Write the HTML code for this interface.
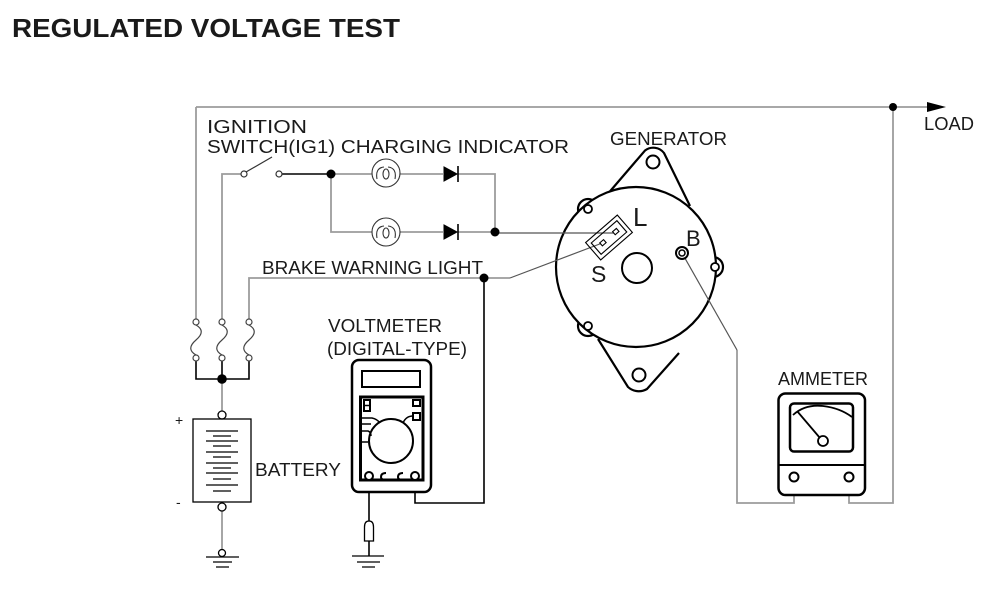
<!DOCTYPE html>
<html><head><meta charset="utf-8"><style>
html,body{margin:0;padding:0;background:#fff;}
svg{display:block;}
text{font-family:"Liberation Sans",Arial,sans-serif;fill:#1a1a1a;}
</style></head><body>
<svg width="988" height="594" viewBox="0 0 988 594" xmlns="http://www.w3.org/2000/svg">
<rect width="988" height="594" fill="#fff"/>
<!-- Title -->
<text x="12" y="37" font-size="26" font-weight="bold" textLength="388" lengthAdjust="spacingAndGlyphs" fill="#000">REGULATED VOLTAGE TEST</text>

<!-- generator (drawn first so wires sit on top) -->
<g stroke="#000" stroke-width="2.2" fill="#fff">
  <path d="M606,196 L645,150.5 A13.5,13.5 0 0 1 664,153 L690,206"/>
  <path d="M598,339 L628,387 A16,16 0 0 0 647,389 L679,353"/>
  <circle cx="588" cy="209" r="10"/>
  <circle cx="713" cy="267" r="10"/>
  <circle cx="588" cy="326" r="10"/>
  <circle cx="636" cy="267" r="80"/>
  <circle cx="653" cy="162" r="6.5" stroke-width="2"/>
  <circle cx="639" cy="375" r="6.5" stroke-width="2"/>
  <circle cx="588" cy="209" r="4" stroke-width="1.8"/>
  <circle cx="715" cy="267" r="4" stroke-width="1.8"/>
  <circle cx="588" cy="326" r="4" stroke-width="1.8"/>
  <circle cx="637" cy="268" r="15" stroke-width="2"/>
</g>

<!-- Labels -->
<text x="207" y="133" font-size="18" textLength="100" lengthAdjust="spacingAndGlyphs">IGNITION</text>
<text x="207" y="153" font-size="18" textLength="362" lengthAdjust="spacingAndGlyphs">SWITCH(IG1) CHARGING INDICATOR</text>
<text x="610" y="145" font-size="18" textLength="117" lengthAdjust="spacingAndGlyphs">GENERATOR</text>
<text x="924" y="130" font-size="18" textLength="50" lengthAdjust="spacingAndGlyphs">LOAD</text>
<text x="262" y="274" font-size="18" textLength="221" lengthAdjust="spacingAndGlyphs">BRAKE WARNING LIGHT</text>
<text x="328" y="332" font-size="18" textLength="114" lengthAdjust="spacingAndGlyphs">VOLTMETER</text>
<text x="327" y="355" font-size="18" textLength="140" lengthAdjust="spacingAndGlyphs">(DIGITAL-TYPE)</text>
<text x="255" y="476" font-size="18" textLength="86" lengthAdjust="spacingAndGlyphs">BATTERY</text>
<text x="778" y="385" font-size="18" textLength="90" lengthAdjust="spacingAndGlyphs">AMMETER</text>
<text x="175" y="425" font-size="14">+</text>
<text x="176" y="507" font-size="14">-</text>
<text x="633" y="226" font-size="26">L</text>
<text x="686" y="246" font-size="22">B</text>
<text x="591" y="282" font-size="23">S</text>

<!-- Gray wires -->
<g fill="none" stroke="#9c9c9c" stroke-width="1.8">
  <path d="M196,107 H928"/>
  <path d="M196,107 V319"/>
  <path d="M222,319 V174 H241"/>
  <path d="M249,319 V278 H510"/>
  <path d="M331,174 H372 M400,174 H443 M458,174 H495 V232"/>
  <path d="M331,174 V232 H372 M400,232 H443 M458,232 H495"/>
  <path d="M222,379 V411"/>
  <path d="M222,511 V549"/>
  <path d="M893,107 V503 H849 V481"/>
  <path d="M794,481 V503 H737 V350"/>
</g>
<g fill="none" stroke="#555" stroke-width="1.2">
  <path d="M495,233 H614"/>
  <path d="M510,278 L601,243.5"/>
  <path d="M682,253 L737,350"/>
</g>

<!-- B terminal -->
<g stroke="#000" fill="#fff">
  <circle cx="682" cy="253" r="6" stroke-width="2"/>
  <circle cx="682" cy="253" r="3" stroke-width="1.5"/>
</g>

<!-- L/S connector -->
<g transform="translate(609,237.5) rotate(-41)" fill="none" stroke="#000" stroke-width="1.1">
  <rect x="-21" y="-11.5" width="42" height="23"/>
  <rect x="-17" y="-7.5" width="34" height="15"/>
  <rect x="6.5" y="-2" width="5" height="4" fill="#fff"/>
  <rect x="-10.5" y="-2" width="5" height="4" fill="#fff"/>
</g>

<!-- Black wires -->
<g fill="none" stroke="#000" stroke-width="1.6">
  <path d="M282,174 H331"/>
  <path d="M196,361 V379 H249 V361 M222,361 V379"/>
  <path d="M484,278 V503 H415 V480"/>
  <path d="M369,480 V521"/>
  <path d="M369,541 V556"/>
</g>

<!-- dots -->
<g fill="#000">
  <circle cx="331" cy="174" r="4.5"/>
  <circle cx="495" cy="232" r="4.5"/>
  <circle cx="484" cy="278" r="4.5"/>
  <circle cx="222" cy="379" r="4.8"/>
  <circle cx="893" cy="107" r="4"/>
  <path d="M927,102 L946,107 L927,112 Z"/>
</g>

<!-- ignition switch -->
<g fill="#fff" stroke="#333" stroke-width="1.2">
  <circle cx="244" cy="174" r="3"/>
  <circle cx="279" cy="174" r="3"/>
  <path d="M246,172 L272,157" fill="none"/>
</g>

<!-- lamps -->
<g fill="none" stroke="#333" stroke-width="1.1">
  <circle cx="386" cy="173" r="14" fill="#fff"/>
  <path d="M377,179 Q375,168 384,167 M388,167 Q397,168 395,179"/>
  <ellipse cx="386" cy="174" rx="3" ry="5"/>
  <circle cx="386" cy="232" r="14" fill="#fff"/>
  <path d="M377,238 Q375,227 384,226 M388,226 Q397,227 395,238"/>
  <ellipse cx="386" cy="233" rx="3" ry="5"/>
</g>
<!-- diodes -->
<g fill="#000" stroke="#000">
  <path d="M444,167 L457,174 L444,181 Z" stroke-width="1"/>
  <path d="M458,166 V182" stroke-width="1.6"/>
  <path d="M444,225 L457,232 L444,239 Z" stroke-width="1"/>
  <path d="M458,224 V240" stroke-width="1.6"/>
</g>

<!-- fuses -->
<g fill="none" stroke="#444" stroke-width="1.2">
  <circle cx="196" cy="322" r="3" fill="#fff"/>
  <circle cx="196" cy="358" r="3" fill="#fff"/>
  <path d="M196,325 C203,329 203,334 196,340 C189,346 189,351 196,355"/>
  <circle cx="222" cy="322" r="3" fill="#fff"/>
  <circle cx="222" cy="358" r="3" fill="#fff"/>
  <path d="M222,325 C229,329 229,334 222,340 C215,346 215,351 222,355"/>
  <circle cx="249" cy="322" r="3" fill="#fff"/>
  <circle cx="249" cy="358" r="3" fill="#fff"/>
  <path d="M249,325 C256,329 256,334 249,340 C242,346 242,351 249,355"/>
</g>

<!-- battery -->
<g fill="none" stroke="#000" stroke-width="1.3">
  <circle cx="222" cy="415" r="4" fill="#fff"/>
  <rect x="193" y="419" width="58" height="83"/>
  <circle cx="222" cy="507" r="4" fill="#fff"/>
  <path d="M206,431 H238 M213,436 H231 M206,441 H238 M213,446 H231 M206,452 H238 M213,457 H231 M206,463 H238 M213,468 H231 M206,473 H238 M213,479 H231 M206,485 H238 M213,491 H231"/>
  <circle cx="222" cy="553" r="3.5" fill="#fff"/>
  <path d="M206,557 H239 M213,562 H232 M216,567 H229"/>
</g>

<!-- voltmeter -->
<g fill="none" stroke="#000">
  <rect x="352" y="360" width="79" height="132" rx="7" stroke-width="2.5" fill="#fff"/>
  <rect x="362" y="371" width="58" height="16" stroke-width="2"/>
  <rect x="360.5" y="397" width="62.5" height="83" stroke-width="3"/>
  <circle cx="391" cy="441" r="22" stroke-width="2"/>
  <rect x="364" y="400" width="6" height="11" stroke-width="2"/>
  <path d="M364,405.5 H370" stroke-width="1.5"/>
  <rect x="413" y="400" width="7" height="6" stroke-width="2"/>
  <rect x="413" y="413" width="7" height="7" stroke-width="2"/>
  <path d="M403,423 Q406,416 413,416" stroke-width="1.5"/>
  <path d="M362,418 H372 Q377,419 380,423 M362,424 H371 M362,431 H368 Q371,432 371,436 M362,442 H368" stroke-width="1.5"/>
  <path d="M361,480 H423" stroke-width="2.5"/>
  <circle cx="369" cy="476" r="4" stroke-width="2" fill="#fff"/>
  <path d="M386,473 Q381,473 381,477 Q381,480 386,480" stroke-width="2"/>
  <path d="M403,473 Q398,473 398,477 Q398,480 403,480" stroke-width="2"/>
  <circle cx="415" cy="476" r="4" stroke-width="2" fill="#fff"/>
  <path d="M364.5,541 V527 Q364.5,521 369,521 Q373.5,521 373.5,527 V541 Z" stroke-width="1.3" fill="#fff"/>
  <path d="M352,556 H384 M357,562 H380 M362,567 H375" stroke-width="1.3"/>
</g>

<!-- ammeter -->
<g fill="none" stroke="#000">
  <rect x="778.5" y="393.5" width="86.5" height="101.5" rx="7" stroke-width="2.5" fill="#fff"/>
  <rect x="790" y="403.5" width="63" height="48" rx="4" stroke-width="2.5"/>
  <path d="M779,465 H864" stroke-width="2"/>
  <path d="M793,415 Q805,404 823,406 Q840,408 852,417" stroke-width="1.8"/>
  <path d="M797,411 L820,438" stroke-width="1.8"/>
  <circle cx="823" cy="441" r="5" stroke-width="1.8" fill="#fff"/>
  <circle cx="794" cy="477" r="4.5" stroke-width="2" fill="#fff"/>
  <circle cx="849" cy="477" r="4.5" stroke-width="2" fill="#fff"/>
</g>
</svg>
</body></html>
